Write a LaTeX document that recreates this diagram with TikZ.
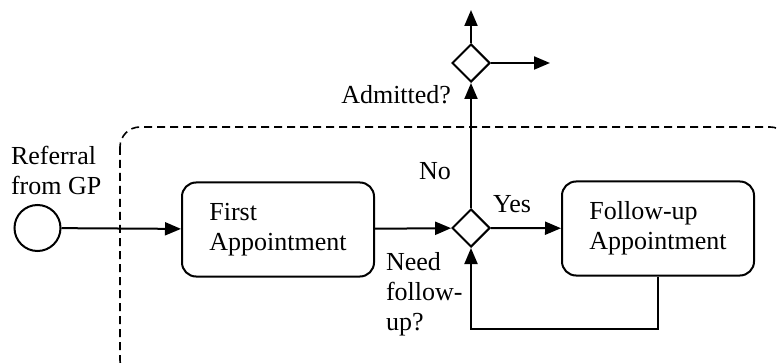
\documentclass[tikz,border=0pt]{standalone}
\usepackage{fontspec}
\setmainfont{Liberation Serif}
\usetikzlibrary{arrows.meta}
\usetikzlibrary{shapes.geometric}

\begin{document}
\begin{tikzpicture}[x=1pt,y=-1pt,
  font=\fontsize{26}{30}\selectfont,
  line width=2pt,
  arr/.style={-{Triangle[length=16pt,width=13pt]}},
  event/.style={circle,draw,minimum size=46pt,inner sep=0pt},
  task/.style={rectangle,rounded corners=14pt,draw,align=left,minimum width=192pt,minimum height=94pt},
  gate/.style={diamond,draw,inner sep=0pt,minimum width=38pt,minimum height=38pt},
  txt/.style={inner sep=0pt,align=left}]
\useasboundingbox (0,0) rectangle (778,363);

% pool boundary, cut off by the page
\begin{scope}
\clip (0,0) rectangle (778,363);
\draw[dashed,dash pattern=on 8pt off 5pt,line width=1.6pt,rounded corners=20pt] (120,127) rectangle (790,380);
\end{scope}

\node[event] (start) at (37.5,228) {};
\node[task] (first) at (278,229.5) {First\\Appointment};
\node[gate] (need) at (471,228) {};
\node[task] (follow) at (658,228.5) {Follow-up\\Appointment};
\node[gate] (admit) at (471,63) {};
\coordinate (up) at (471,10);
\coordinate (out) at (550,63);

% base of a multi-line node is its last line
\node[txt,anchor=base west] (ref) at (10,195) {Referral\\from GP};
\node[txt,anchor=base west] (needlbl) at (385,330) {Need\\follow-\\up?};
\node[txt,anchor=base east] (admlbl) at (452,104) {Admitted?};

\draw[arr] (start) -- (first);
\draw[arr] (first) -- (need);
\draw[arr] (need) -- (follow);
\draw[arr] (need) -- (admit);
\draw[arr] (follow.south) -- ++(0,52) -| (need.south);
\draw[arr] (admit) -- (up);
\draw[arr] (admit) -- (out);

\node[inner sep=0pt,anchor=base] (yes) at (512,213) {Yes};
\node[inner sep=0pt,anchor=base] (no) at (435,180) {No};

\end{tikzpicture}
\end{document}
